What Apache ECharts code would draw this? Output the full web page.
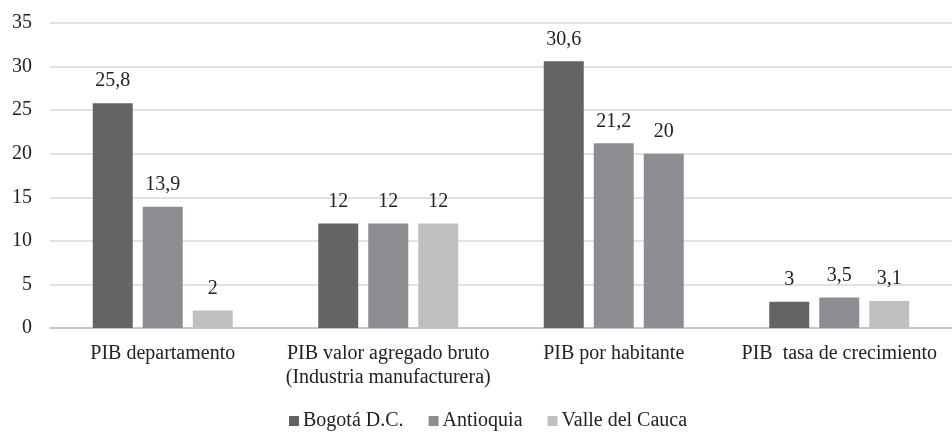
<!DOCTYPE html>
<html><head><meta charset="utf-8">
<script src="https://cdn.jsdelivr.net/npm/echarts@6/dist/echarts.min.js"></script>
<style>html,body{margin:0;padding:0;background:#fff}#c{width:952px;height:432px}</style>
</head><body><div id="c"></div>
<script>
const categories = ['PIB departamento', 'PIB valor agregado bruto\n(Industria manufacturera)', 'PIB por habitante', 'PIB  tasa de crecimiento'];
const seriesNames = ['Bogotá D.C.', 'Antioquia', 'Valle del Cauca'];
const bogota = [25.8, 12, 30.6, 3];
const antioquia = [13.9, 12, 21.2, 3.5];
const valle = [2, 12, 20, 3.1];
const colors = ['#646466', '#8d8e91', '#bfc0c2'];
const font = "'Liberation Serif', 'Times New Roman', serif";
const fmt = p => String(p.value).replace('.', ',');
function mk(name, data, color, overrides) {
  return {
    name, type: 'bar', barWidth: 40, barGap: '25%',
    itemStyle: { color },
    label: { show: true, position: 'top', distance: 12, formatter: fmt, color: '#222', fontFamily: font, fontSize: 20 },
    data: data.map((v, i) => overrides && overrides[i] ? { value: v, itemStyle: { color: overrides[i] } } : v)
  };
}
const chart = echarts.init(document.getElementById('c'));
chart.setOption({
  animation: false,
  textStyle: { fontFamily: font },
  grid: { left: 50, right: -10, top: 23, bottom: 104 },
  legend: {
    bottom: 1, left: 289, padding: 0, itemWidth: 10, itemHeight: 10, itemGap: 25,
    textStyle: { fontFamily: font, fontSize: 20, color: '#222', padding: [0, 0, 0, -1] },
    data: seriesNames.map((n, i) => ({ name: n, icon: 'rect', itemStyle: { color: colors[i] } }))
  },
  xAxis: {
    type: 'category', data: categories,
    axisLine: { lineStyle: { color: '#bfbfbf', width: 1.5 } },
    axisTick: { show: false },
    axisLabel: { color: '#222', fontFamily: font, fontSize: 20, margin: 14, lineHeight: 24, interval: 0 }
  },
  yAxis: {
    type: 'value', min: 0, max: 35, interval: 5,
    axisLine: { show: false }, axisTick: { show: false },
    splitLine: { lineStyle: { color: '#d9d9d9', width: 1.5 } },
    axisLabel: { color: '#222', fontFamily: font, fontSize: 20, margin: 18 }
  },
  series: [
    mk(seriesNames[0], bogota, colors[0]),
    mk(seriesNames[1], antioquia, colors[1]),
    mk(seriesNames[2], valle, colors[2], { 2: colors[1] })
  ]
});
</script></body></html>
